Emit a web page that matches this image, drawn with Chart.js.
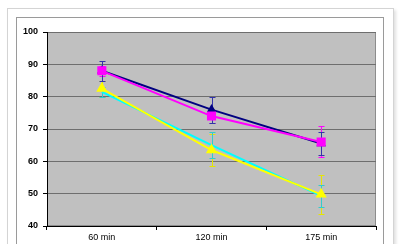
<!DOCTYPE html>
<html>
<head>
<meta charset="utf-8">
<script src="https://cdn.jsdelivr.net/npm/chart.js@4"></script>
<style>
  body { margin: 0; background: #fff; width: 400px; height: 244px; overflow: hidden; position: relative; }
  .outer { position: absolute; left: 7px; top: 8px; width: 385px; height: 260px; border: 1px solid #d4d4d4; box-shadow: 2px 2px 3px #e0e0e0; background: #fff; }
  .inner { position: absolute; left: 16px; top: 17px; width: 366px; height: 250px; border: 1px solid #9a9a9a; background: #fff; }
  canvas { position: absolute; left: 0; top: 0; }
</style>
</head>
<body>
<div class="outer"></div>
<div class="inner"></div>
<canvas id="chart" width="400" height="244"></canvas>
<script>
const categories = ['60 min', '120 min', '175 min'];

const navyValues = [88, 76, 65.5];
const navyErrors = [3, 4, 3.5];
const pinkValues = [88, 74, 66];
const pinkErrors = [1.5, 2, 4.8];
const cyanValues = [81.5, 65, 49.3];
const cyanErrors = [1.5, 4, 3.5];
const yellowValues = [82.5, 63.5, 49.8];
const yellowErrors = [2.5, 5, 6];

const yTicks = [40, 50, 60, 70, 80, 90, 100];

// grey plot background like the old Excel charts
const plotBackground = {
    id: 'plotBackground',
    beforeDraw(chart) {
        const { ctx, chartArea: a } = chart;
        ctx.save();
        ctx.fillStyle = '#c0c0c0';
        ctx.fillRect(a.left, a.top, a.right - a.left, a.bottom - a.top);
        ctx.strokeStyle = '#8c8c8c';
        ctx.lineWidth = 1;
        ctx.strokeRect(a.left + 0.5, a.top + 0.5, a.right - a.left - 1, a.bottom - a.top - 1);
        ctx.restore();
    }
};

// error bars sit behind the lines
const errorBars = {
    id: 'errorBars',
    beforeDatasetsDraw(chart) {
        const { ctx } = chart;
        const x = chart.scales.x, y = chart.scales.y;
        chart.data.datasets.forEach(ds => {
            if (!ds.errors) return;
            ctx.save();
            ctx.strokeStyle = ds.errorColor;
            ctx.lineWidth = 1;
            ds.data.forEach((v, i) => {
                const px = Math.round(x.getPixelForValue(i)) + 0.5;
                const top = Math.round(y.getPixelForValue(v + ds.errors[i])) + 0.5;
                const bot = Math.round(y.getPixelForValue(v - ds.errors[i])) + 0.5;
                ctx.beginPath();
                ctx.moveTo(px, top); ctx.lineTo(px, bot);
                ctx.moveTo(px - 3, top); ctx.lineTo(px + 3, top);
                ctx.moveTo(px - 3, bot); ctx.lineTo(px + 3, bot);
                ctx.stroke();
            });
            ctx.restore();
        });
    }
};

new Chart(document.getElementById('chart'), {
    type: 'line',
    data: {
        labels: categories,
        datasets: [
            { data: yellowValues, errors: yellowErrors, errorColor: '#e6e600', borderColor: '#ffff00', backgroundColor: '#ffff00',
              borderWidth: 2, pointStyle: 'triangle', pointRadius: 4.5, tension: 0 },
            { data: cyanValues, errors: cyanErrors, errorColor: '#33cccc', borderColor: '#00ffff', backgroundColor: '#00ffff',
              borderWidth: 2, pointRadius: 0, tension: 0 },
            { data: pinkValues, errors: pinkErrors, errorColor: '#ff00ff', borderColor: '#ff00ff', backgroundColor: '#ff00ff',
              borderWidth: 2, pointStyle: 'rect', pointRadius: 5, tension: 0 },
            { data: navyValues, errors: navyErrors, errorColor: '#3333aa', borderColor: '#000080', backgroundColor: '#000080',
              borderWidth: 2, pointStyle: 'triangle', pointRadius: 3.5, tension: 0 }
        ]
    },
    options: {
        responsive: false,
        animation: false,
        layout: { padding: { top: 32, right: 24, left: 0, bottom: 0 } },
        plugins: { legend: { display: false }, tooltip: { enabled: false } },
        scales: {
            x: {
                offset: true,
                afterFit(scale) { scale.height = 18; },
                grid: { offset: true, drawOnChartArea: false, color: '#000', tickLength: 4 },
                border: { color: '#000' },
                ticks: { color: '#000', padding: 2, font: { family: 'Liberation Sans, Arial', size: 9 } }
            },
            y: {
                min: 40,
                max: 100,
                afterFit(scale) { scale.width = 47; },
                afterBuildTicks(scale) { scale.ticks = yTicks.map(v => ({ value: v })); },
                grid: { color: '#6e6e6e', tickLength: 4, tickColor: '#000' },
                border: { color: '#000' },
                ticks: { color: '#000', padding: 5, font: { family: 'Liberation Sans, Arial', size: 9, weight: 'bold' } }
            }
        }
    },
    plugins: [plotBackground, errorBars]
});
</script>
</body>
</html>
